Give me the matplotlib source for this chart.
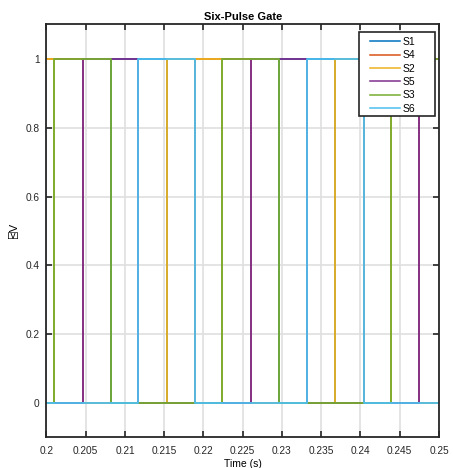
import matplotlib
matplotlib.use("Agg")
import matplotlib.pyplot as plt
from matplotlib.patches import Rectangle

plt.rcParams['font.family'] = ['Liberation Sans', 'DejaVu Sans', 'DejaVu Sans Mono']

# Gate signal timing (s): rising and falling edges of each pulse
names = ["S1", "S4", "S2", "S5", "S3", "S6"]
colors = ["#0072BD", "#D95319", "#EDB120", "#7E2F8E", "#77AC30", "#4DBEEE"]

s1_edges = [0.2082, 0.2153, 0.2296, 0.2368]
s4_edges = [0.1973, 0.2046, 0.2189, 0.2260, 0.2404, 0.2475]
s2_edges = [0.1938, 0.2009, 0.2153, 0.2223, 0.2368, 0.2439]
s5_edges = [0.2046, 0.2116, 0.2260, 0.2332, 0.2475, 0.2546]
s3_edges = [0.2009, 0.2082, 0.2223, 0.2296, 0.2439, 0.2511]
s6_edges = [0.2116, 0.2189, 0.2332, 0.2404]
edges = [s1_edges, s4_edges, s2_edges, s5_edges, s3_edges, s6_edges]

t_start, t_end = 0.19, 0.26
x_ticks = [0.2, 0.205, 0.21, 0.215, 0.22, 0.225, 0.23, 0.235, 0.24, 0.245, 0.25]
x_tick_labels = ["0.2", "0.205", "0.21", "0.215", "0.22", "0.225", "0.23",
                 "0.235", "0.24", "0.245", "0.25"]
y_ticks = [0, 0.2, 0.4, 0.6, 0.8, 1]
y_tick_labels = ["0", "0.2", "0.4", "0.6", "0.8", "1"]

fig = plt.figure(figsize=(4.53, 4.68), dpi=100)
ax = fig.add_axes([0.1026, 0.0652, 0.8665, 0.8825])

for name, col, e in zip(names, colors, edges):
    t = [t_start] + list(e) + [t_end]
    v = [0] + [1 if i % 2 == 0 else 0 for i in range(len(e))] + [0]
    ax.plot(t, v, drawstyle="steps-post", color=col, lw=1.3, label=name)

ax.set_xlim(0.2, 0.25)
ax.set_ylim(-0.1, 1.1)
ax.set_xticks(x_ticks)
ax.set_xticklabels(x_tick_labels)
ax.set_yticks(y_ticks)
ax.set_yticklabels(y_tick_labels)

ax.grid(True, color="#dfdfdf", lw=1.2)
ax.set_axisbelow(True)
for sp in ax.spines.values():
    sp.set_color("#262626")
    sp.set_linewidth(1.3)
ax.tick_params(direction="in", length=4, width=1.2, colors="#262626",
               labelsize=7.3, top=True, right=True)
ax.tick_params(axis="x", pad=6)
ax.tick_params(axis="y", pad=5)

ax.set_title("Six-Pulse Gate", fontsize=8, fontweight="bold", pad=3.5)
ax.set_xlabel("Time (s)", fontsize=7.5, labelpad=2)
ax.set_ylabel("\u2343V", fontsize=8, labelpad=4)

# Legend box drawn as a separate frame, entries placed inside it
frame = Rectangle((0.797, 0.7777), 0.1936, 0.2041, transform=ax.transAxes,
                  facecolor="white", edgecolor="#262626", lw=1.2, zorder=5)
ax.add_patch(frame)
leg = ax.legend(loc="upper left", bbox_to_anchor=(0.8242, 0.9695),
                borderaxespad=0, borderpad=0, fontsize=7.5, handlelength=2.9,
                handletextpad=0.25, labelspacing=0.32, frameon=False)
leg.set_zorder(6)
for h in leg.legend_handles:
    h.set_linewidth(1.1)

fig.savefig("out.png", dpi=100)
